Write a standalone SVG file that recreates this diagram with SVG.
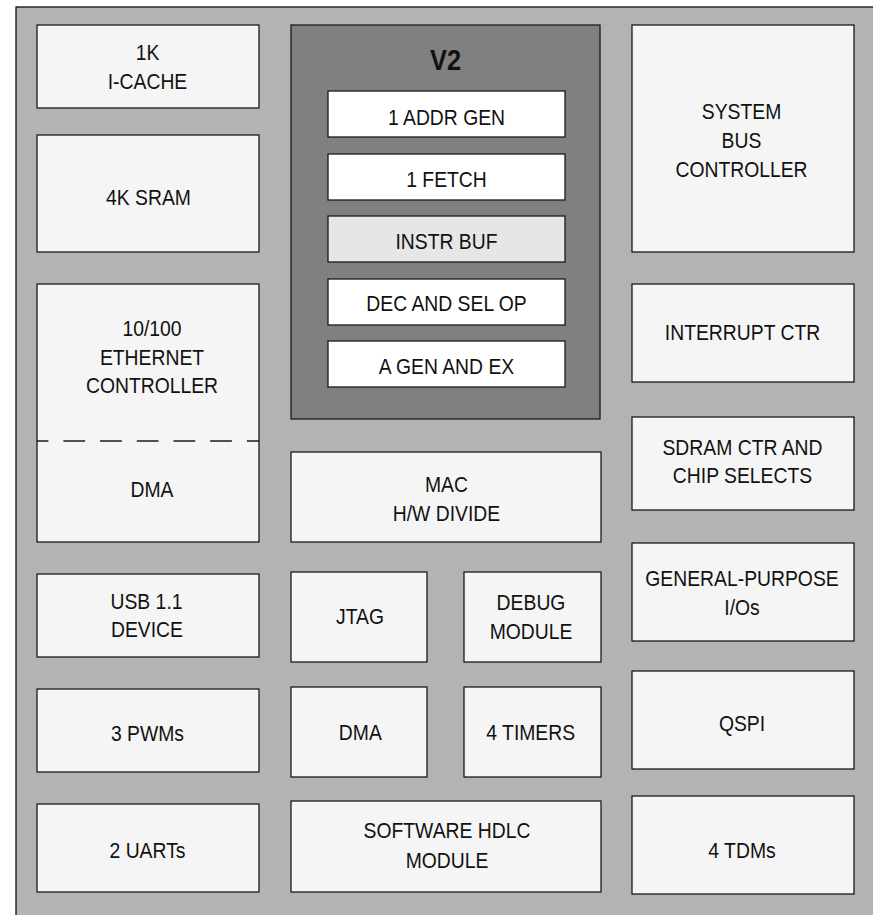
<svg xmlns="http://www.w3.org/2000/svg" width="873" height="915" viewBox="0 0 873 915">
<style>
.frame{fill:#b3b3b3;stroke:#111;stroke-width:1.3}
.box{fill:#f5f5f5;stroke:#1a1a1a;stroke-width:1.3}
.core{fill:#808080;stroke:#1a1a1a;stroke-width:1.3}
.stage{fill:#ffffff;stroke:#1a1a1a;stroke-width:1.3}
.buf{fill:#e6e6e6;stroke:#1a1a1a;stroke-width:1.3}
.t{font-family:"Liberation Sans",Arial,Helvetica,sans-serif;font-size:22.5px;fill:#111;text-anchor:middle}
.b{font-family:"Liberation Sans",Arial,Helvetica,sans-serif;font-size:30px;font-weight:bold;fill:#111;text-anchor:middle}
.dash{stroke:#1a1a1a;stroke-width:1.3;stroke-dasharray:21.7 15;stroke-dashoffset:10.3;fill:none}
</style>
<rect width="873" height="915" fill="#ffffff"/>
<rect class="frame" x="16" y="7" width="880" height="940"/>

<g id="icache"><rect class="box" x="37" y="25" width="222" height="83"/>
<text class="t" transform="translate(147.5,0) scale(0.86,1)"><tspan x="0" y="60">1K</tspan><tspan x="0" y="89">I-CACHE</tspan></text></g>

<g id="sram"><rect class="box" x="37" y="135" width="222" height="117"/>
<text class="t" transform="translate(148.5,0) scale(0.86,1)"><tspan x="0" y="205">4K SRAM</tspan></text></g>

<g id="ethernet"><rect class="box" x="37" y="284" width="222" height="258"/>
<line class="dash" x1="37" y1="441" x2="259" y2="441"/>
<text class="t" transform="translate(152,0) scale(0.86,1)"><tspan x="0" y="336.5">10/100</tspan><tspan x="0" y="365">ETHERNET</tspan><tspan x="0" y="393.5">CONTROLLER</tspan><tspan x="0" y="497.5">DMA</tspan></text></g>

<g id="usb"><rect class="box" x="37" y="574" width="222" height="83"/>
<text class="t" transform="translate(146.5,0) scale(0.86,1)"><tspan x="0" y="609">USB 1.1</tspan><tspan x="0.5" y="637.5">DEVICE</tspan></text></g>

<g id="pwm"><rect class="box" x="37" y="689" width="222" height="83"/>
<text class="t" transform="translate(147.5,0) scale(0.86,1)"><tspan x="0" y="741.5">3 PWMs</tspan></text></g>

<g id="uart"><rect class="box" x="37" y="804" width="222" height="88"/>
<text class="t" transform="translate(147.5,0) scale(0.86,1)"><tspan x="0" y="858">2 UARTs</tspan></text></g>

<g id="v2"><rect class="core" x="291" y="25" width="309" height="394"/>
<text class="b" transform="translate(445.5,0) scale(0.85,1)"><tspan x="0" y="70">V2</tspan></text></g>

<g id="addrgen"><rect class="stage" x="328" y="91" width="237" height="46"/>
<text class="t" transform="translate(446.5,0) scale(0.86,1)"><tspan x="0" y="125">1 ADDR GEN</tspan></text></g>

<g id="fetch"><rect class="stage" x="328" y="154" width="237" height="46"/>
<text class="t" transform="translate(446.5,0) scale(0.86,1)"><tspan x="0" y="187">1 FETCH</tspan></text></g>

<g id="instrbuf"><rect class="buf" x="328" y="216" width="237" height="46"/>
<text class="t" transform="translate(446.5,0) scale(0.86,1)"><tspan x="0" y="249">INSTR BUF</tspan></text></g>

<g id="decsel"><rect class="stage" x="328" y="279" width="237" height="46"/>
<text class="t" transform="translate(446.5,0) scale(0.86,1)"><tspan x="0" y="311.5">DEC AND SEL OP</tspan></text></g>

<g id="agenex"><rect class="stage" x="328" y="341" width="237" height="46"/>
<text class="t" transform="translate(446.5,0) scale(0.86,1)"><tspan x="0" y="374">A GEN AND EX</tspan></text></g>

<g id="mac"><rect class="box" x="291" y="452" width="310" height="90"/>
<text class="t" transform="translate(446.5,0) scale(0.86,1)"><tspan x="0" y="492.5">MAC</tspan><tspan x="0" y="521">H/W DIVIDE</tspan></text></g>

<g id="jtag"><rect class="box" x="291" y="572" width="136" height="90"/>
<text class="t" transform="translate(360,0) scale(0.86,1)"><tspan x="0" y="624.5">JTAG</tspan></text></g>

<g id="debug"><rect class="box" x="464" y="572" width="137" height="90"/>
<text class="t" transform="translate(531,0) scale(0.86,1)"><tspan x="0" y="610.5">DEBUG</tspan><tspan x="0" y="639.5">MODULE</tspan></text></g>

<g id="dma"><rect class="box" x="291" y="687" width="136" height="90"/>
<text class="t" transform="translate(360.3,0) scale(0.86,1)"><tspan x="0" y="740">DMA</tspan></text></g>

<g id="timers"><rect class="box" x="464" y="687" width="137" height="90"/>
<text class="t" transform="translate(530.7,0) scale(0.86,1)"><tspan x="0" y="740">4 TIMERS</tspan></text></g>

<g id="hdlc"><rect class="box" x="291" y="801" width="310" height="91"/>
<text class="t" transform="translate(447,0) scale(0.86,1)"><tspan x="0" y="838.5">SOFTWARE HDLC</tspan><tspan x="0" y="868">MODULE</tspan></text></g>

<g id="sysbus"><rect class="box" x="632" y="25" width="222" height="227"/>
<text class="t" transform="translate(741.5,0) scale(0.86,1)"><tspan x="0" y="119.5">SYSTEM</tspan><tspan x="0" y="148.5">BUS</tspan><tspan x="0" y="177.5">CONTROLLER</tspan></text></g>

<g id="intctr"><rect class="box" x="632" y="284" width="222" height="98"/>
<text class="t" transform="translate(742.5,0) scale(0.86,1)"><tspan x="0" y="340.5">INTERRUPT CTR</tspan></text></g>

<g id="sdram"><rect class="box" x="632" y="417" width="222" height="93"/>
<text class="t" transform="translate(742.5,0) scale(0.86,1)"><tspan x="0" y="455">SDRAM CTR AND</tspan><tspan x="0" y="483.5">CHIP SELECTS</tspan></text></g>

<g id="gpio"><rect class="box" x="632" y="543" width="222" height="98"/>
<text class="t" transform="translate(742,0) scale(0.86,1)"><tspan x="0" y="586.5">GENERAL-PURPOSE</tspan><tspan x="0" y="615.5">I/Os</tspan></text></g>

<g id="qspi"><rect class="box" x="632" y="671" width="222" height="98"/>
<text class="t" transform="translate(742,0) scale(0.86,1)"><tspan x="0" y="731.5">QSPI</tspan></text></g>

<g id="tdm"><rect class="box" x="632" y="796" width="222" height="98"/>
<text class="t" transform="translate(742,0) scale(0.86,1)"><tspan x="0" y="858">4 TDMs</tspan></text></g>

<g id="connectors"></g>
</svg>
